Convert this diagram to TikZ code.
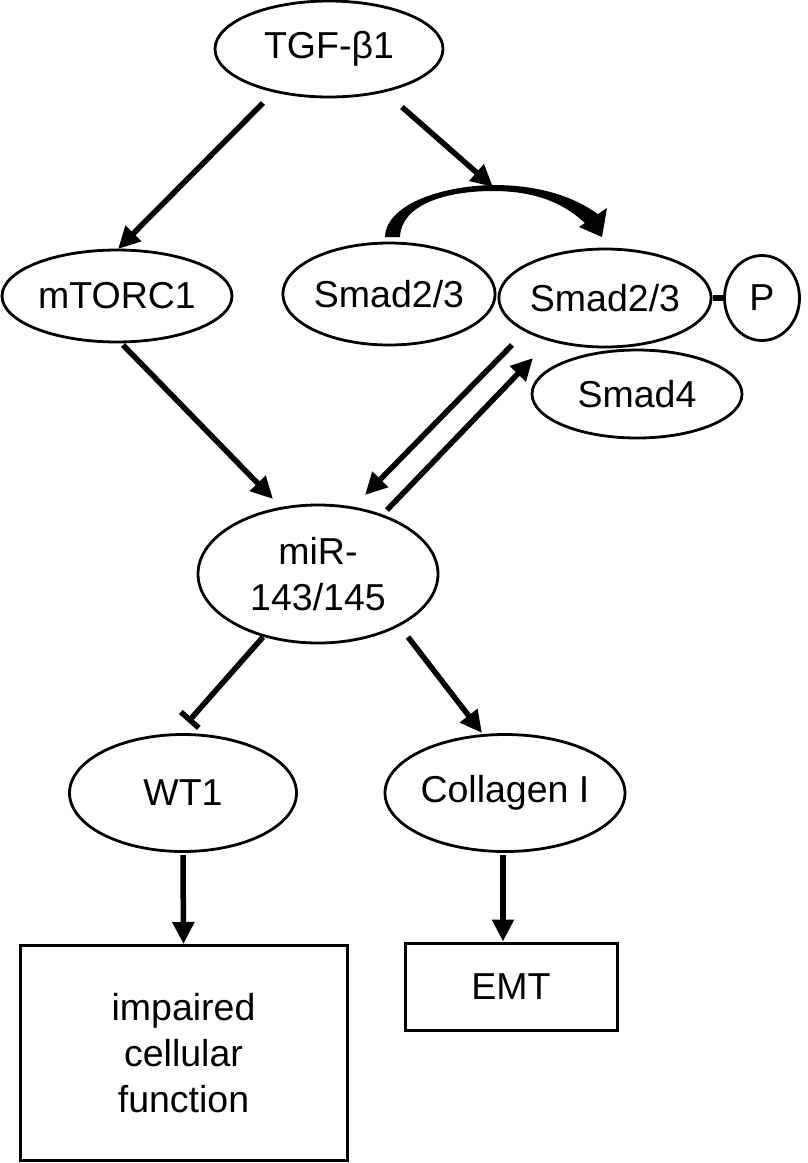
\documentclass[tikz,border=0pt]{standalone}
\usepackage{fontspec}
\setmainfont{Liberation Sans}
\usetikzlibrary{arrows.meta,calc,shapes.geometric}
\begin{document}
\begin{tikzpicture}[x=1pt,y=-1pt,
  ell/.style={draw,ellipse,line width=2.8pt,inner sep=0pt,font=\fontsize{37.5pt}{46pt}\selectfont,align=center},
  boxnode/.style={draw,rectangle,line width=3pt,inner sep=0pt,font=\fontsize{37.5pt}{46pt}\selectfont,align=center},
  arr/.style={line width=5.5pt,-{Triangle[length=22pt,width=21pt]}},
  inh/.style={line width=5.5pt,-{Bar[width=24pt]}}]
\useasboundingbox (0,0) rectangle (807,1163);

\node[ell,minimum width=228pt,minimum height=96pt] (tgf) at (329,49) {TGF-β1};
\node[ell,minimum width=230pt,minimum height=92pt] (mtorc) at (117,296) {mTORC1};
\node[ell,minimum width=208pt,minimum height=102pt] (smadL) at (389,294) {Smad2/3};
\node[ell,minimum width=210pt,minimum height=98pt] (smadR) at (605,298) {Smad2/3};
\node[ell,minimum width=75pt,minimum height=85pt] (pnode) at (762,298) {P};
\node[ell,minimum width=210pt,minimum height=88pt] (smad4) at (637,394) {Smad4};
\node[ell,minimum width=240pt,minimum height=138pt] (mir) at (318,574) {miR-\\143/145};
\node[ell,minimum width=227pt,minimum height=117pt] (wt1) at (183,793) {WT1};
\node[ell,minimum width=240pt,minimum height=117pt] (coll) at (505,793) {Collagen I};
\node[boxnode,minimum width=327pt,minimum height=215pt] (imp) at (183.5,1053) {impaired\\cellular\\function};
\node[boxnode,minimum width=212pt,minimum height=87pt] (emt) at (511,986.5) {EMT};

% curved arrow between the two Smad2/3
\coordinate (ctop) at (493,187);
\fill (385,237) .. controls (386,205) and (440,186) .. (493,185)
  .. controls (540,185) and (575,197) .. (599,215)
  -- (588,226) .. controls (568,206) and (540,191) .. (493,191)
  .. controls (445,191) and (401,205) .. (400,237) -- cycle;
\fill (602,237) -- (579,227) -- (607,208) -- cycle;

\draw[arr] ($(tgf)+(-66,54)$) -- ($(mtorc)+(1,-47)$);
\draw[arr] ($(tgf)+(73,58)$) -- (ctop);
\draw[arr] ($(mtorc)+(6,49)$) -- ($(mir)+(-45,-75)$);
\draw[arr] ($(smadR)+(-93,47)$) -- ($(mir)+(47,-79)$);
\draw[arr] ($(mir)+(69,-64)$) -- ($(smadR)+(-72,60)$);
\draw[inh] ($(mir)+(-55,63)$) -- ($(wt1)+(5,-71)$);
\draw[arr] ($(mir)+(90,63)$) -- ($(coll)+(-23,-60)$);
\draw[arr] ($(wt1)+(0,62)$) -- (imp.north);
\draw[arr] ($(coll)+(-2,62)$) -- ($(emt.north)+(-8,0)$);
\draw[line width=5.5pt] (smadR.east) -- (pnode.west);
\end{tikzpicture}
\end{document}
